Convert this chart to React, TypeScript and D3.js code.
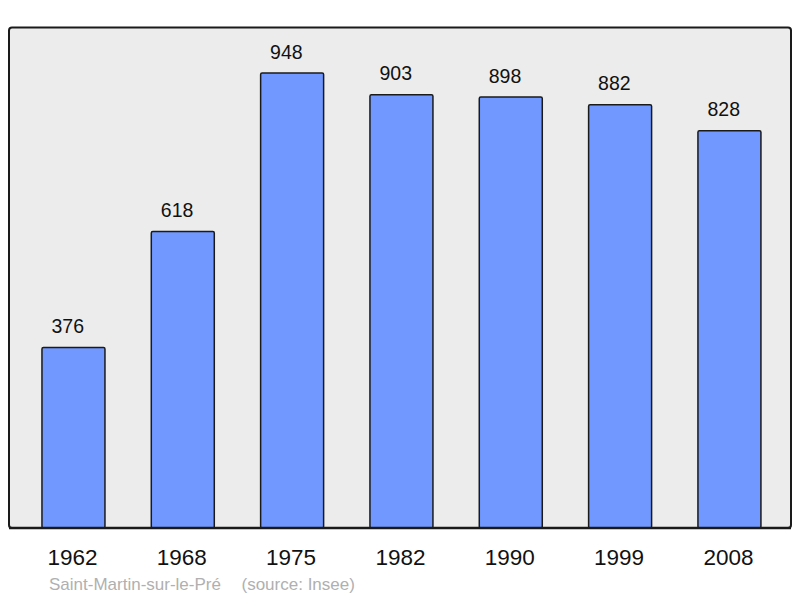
import { useMemo } from 'react';
import * as d3 from 'd3';

const years = ['1962', '1968', '1975', '1982', '1990', '1999', '2008'];
const population = [376, 618, 948, 903, 898, 882, 828];
const placeName = 'Saint-Martin-sur-le-Pré';
const sourceText = '(source: Insee)';

const W = 800;
const H = 598;
const plot = { left: 9, right: 791, top: 27.5, bottom: 528 };

export default function App() {
  const x = useMemo(
    () =>
      d3
        .scaleBand<string>()
        .domain(years)
        .range([20.1, 782.8])
        .paddingInner(0.4238)
        .paddingOuter(0.2),
    []
  );
  const y = useMemo(
    () => d3.scaleLinear().domain([0, 1043]).range([plot.bottom, plot.top]),
    []
  );

  return (
    <svg
      width={W}
      height={H}
      style={{ position: 'absolute', left: 0, top: 0, fontFamily: '"Liberation Sans", Arial, sans-serif' }}
    >
      <rect x={0} y={0} width={W} height={H} fill="#ffffff" />
      <rect
        x={plot.left}
        y={plot.top}
        width={plot.right - plot.left}
        height={plot.bottom - plot.top}
        rx={3}
        fill="#ececec"
        stroke="#1a1a1a"
        strokeWidth={2}
      />
      {years.map((yr, i) => {
        const bx = x(yr) || 0;
        const by = y(population[i]);
        return (
          <g key={yr}>
            <rect
              x={bx}
              y={by}
              width={x.bandwidth()}
              height={plot.bottom - by}
              rx={1.5}
              fill="#7098ff"
              stroke="#1a1a1a"
              strokeWidth={1.5}
            />
            {/* value labels sit a bit left of centre, as in the source */}
            <text x={bx + 9.5} y={by - 14.5} fontSize={19.5} fill="#111">
              {population[i]}
            </text>
            <text
              x={bx + x.bandwidth() / 2 - 1}
              y={565}
              textAnchor="middle"
              fontSize={22.5}
              fill="#111"
            >
              {yr}
            </text>
          </g>
        );
      })}
      <line
        x1={plot.left}
        x2={plot.right}
        y1={plot.bottom}
        y2={plot.bottom}
        stroke="#1a1a1a"
        strokeWidth={2.5}
      />
      <text x={49} y={589.5} fontSize={17} fill="#b0b0b0">
        {placeName}
      </text>
      <text x={241.5} y={589.5} fontSize={17} fill="#b0b0b0">
        {sourceText}
      </text>
    </svg>
  );
}
